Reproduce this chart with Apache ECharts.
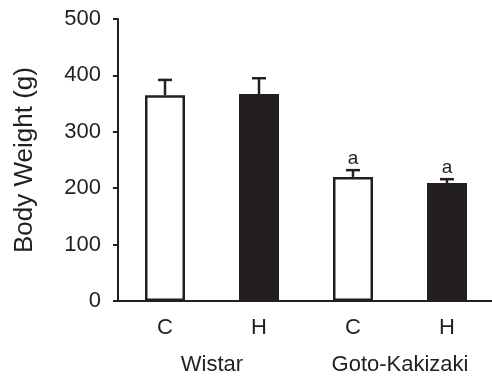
<!DOCTYPE html>
<html>
<head>
<meta charset="utf-8">
<script src="https://cdn.jsdelivr.net/npm/echarts@6/dist/echarts.min.js"></script>
<style>html,body{margin:0;padding:0;background:#fff;}#c{width:492px;height:378px;}</style>
</head>
<body>
<div id="c"></div>
<script>
const categories = ['C', 'H', 'C', 'H'];
const groups = ['Wistar', 'Goto-Kakizaki'];
const means = [365, 367, 220, 209];
const errors = [27, 28, 12, 7];
const marks = ['', '', 'a', 'a'];
const filled = [false, true, false, true];
const yTicks = { min: 0, max: 500, interval: 100 };

const INK = '#231f20';
const FONT = '"Liberation Sans", Arial, sans-serif';

const chart = echarts.init(document.getElementById('c'), null, { renderer: 'canvas' });
chart.setOption({
  animation: false,
  backgroundColor: '#fff',
  grid: { left: 118, top: 19, width: 376, bottom: 77, containLabel: false, outerBoundsMode: 'none' },
  xAxis: [
    {
      type: 'category', data: categories, position: 'bottom',
      axisLine: { show: true, lineStyle: { color: INK, width: 2 } },
      axisTick: { show: false },
      axisLabel: { color: INK, fontSize: 22, fontFamily: FONT, margin: 16 },
      splitLine: { show: false }
    },
    {
      type: 'category', data: groups, position: 'bottom', offset: 37,
      axisLine: { show: false }, axisTick: { show: false },
      axisLabel: { color: INK, fontSize: 22, fontFamily: FONT, margin: 16 },
      splitLine: { show: false }
    }
  ],
  yAxis: {
    type: 'value', min: yTicks.min, max: yTicks.max, interval: yTicks.interval,
    name: 'Body Weight (g)', nameLocation: 'middle', nameRotate: 90, nameGap: 80,
    nameTextStyle: { color: INK, fontSize: 26, fontFamily: FONT },
    axisLine: { show: true, lineStyle: { color: INK, width: 2 } },
    axisTick: { show: true, inside: false, length: 5, lineStyle: { color: INK, width: 2 } },
    axisLabel: { color: INK, fontSize: 22, fontFamily: FONT, margin: 17 },
    splitLine: { show: false }
  },
  series: [
    {
      type: 'bar', xAxisIndex: 0, barWidth: 40,
      data: means.map((v, i) => ({
        value: v,
        itemStyle: filled[i]
          ? { color: INK, borderColor: INK, borderWidth: 2 }
          : { color: '#fff', borderColor: INK, borderWidth: 2.5 }
      })),
      z: 2
    },
    {
      type: 'custom', xAxisIndex: 0,
      data: means.map((v, i) => [i, v, errors[i], marks[i]]),
      renderItem: function (params, api) {
        const i = api.value(0);
        const m = api.value(1);
        const e = api.value(2);
        const mark = marks[i];
        const base = api.coord([i, m]);
        const top = api.coord([i, m + e]);
        const half = 7;
        const children = [
          { type: 'line', shape: { x1: top[0], y1: base[1], x2: top[0], y2: top[1] }, style: { stroke: INK, lineWidth: 2.5 } },
          { type: 'line', shape: { x1: top[0] - half, y1: top[1], x2: top[0] + half, y2: top[1] }, style: { stroke: INK, lineWidth: 2.5 } }
        ];
        if (mark) {
          children.push({
            type: 'text',
            style: { text: mark, x: top[0], y: top[1] - 2, align: 'center', verticalAlign: 'bottom', fill: INK, fontSize: 19, fontFamily: FONT }
          });
        }
        return { type: 'group', children: children };
      },
      z: 3
    }
  ]
});
</script>
</body>
</html>
